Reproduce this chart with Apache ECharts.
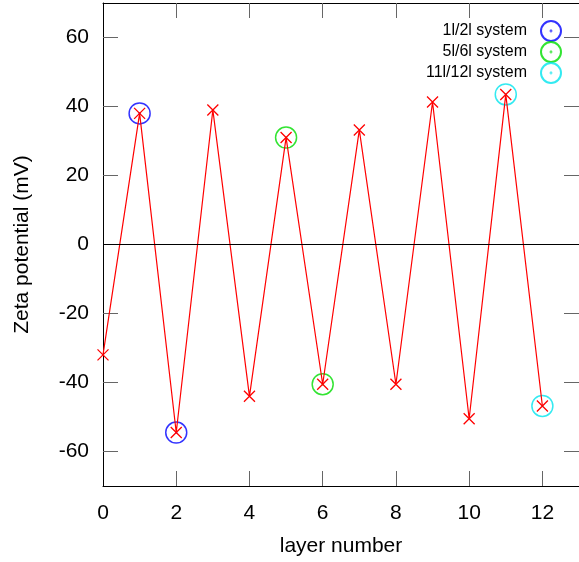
<!DOCTYPE html>
<html><head><meta charset="utf-8">
<script src="https://cdn.jsdelivr.net/npm/echarts@6/dist/echarts.min.js"></script>
<style>html,body{margin:0;padding:0;background:#fff}#c{width:579px;height:562px}</style>
</head><body><div id="c"></div>
<script>
const layers = [0,1,2,3,4,5,6,7,8,9,10,11,12];
const zeta = [-32,38,-54.5,39,-44,31,-40.5,33.2,-40.5,41.3,-50.5,43.5,-46.8];
const sys12 = [[1,38],[2,-54.5]];
const sys56 = [[5,31],[6,-40.5]];
const sys1112 = [[11,43.5],[12,-46.8]];
const xTicks = [0,2,4,6,8,10,12];
const yTicks = [-60,-40,-20,0,20,40,60];
const legendNames = ['1l/2l system','5l/6l system','11l/12l system'];

const font = 'Liberation Sans, Arial, sans-serif';
const xTickMarks = xTicks.filter(v => v !== 0);
const tickStyle = {show:true, inside:true, length:15, lineStyle:{color:'#666', width:1}};
const lineStyleAx = {show:true, onZero:false, lineStyle:{color:'#000', width:1}};
const ringPath = 'path://M10,0A10,10,0,1,1,10,20A10,10,0,1,1,10,0ZM10,9.6A0.4,0.4,0,1,1,10,10.4A0.4,0.4,0,1,1,10,9.6Z';
const chart = echarts.init(document.getElementById('c'), null, {renderer:'canvas'});
function ring(name, color, data){
  return {name, type:'scatter', data, symbol:ringPath, symbolSize:21, z:3,
    itemStyle:{color:'rgba(0,0,0,0)', borderColor:color, borderWidth:1.5}};
}
chart.setOption({
  animation:false,
  grid:{left:103, top:3, width:483, height:484},
  legend:{orient:'vertical', right:12, top:15, align:'right', itemWidth:20, itemHeight:20, itemGap:-1,
    icon:ringPath,
    textStyle:{fontFamily:font, fontSize:16, color:'#000', lineHeight:20, padding:[0,9,0,0]},
    data:legendNames, selectedMode:false},
  xAxis:[{type:'value', min:0, max:13, position:'bottom',
    axisLine:lineStyleAx,
    axisTick:Object.assign({customValues:xTickMarks}, tickStyle),
    axisLabel:{customValues:xTicks, fontFamily:font, fontSize:21, color:'#000', margin:17},
    splitLine:{show:false},
    name:'layer number', nameLocation:'middle', nameGap:50,
    nameTextStyle:{fontFamily:font, fontSize:21, color:'#000'}},
   {type:'value', min:0, max:13, position:'top',
    axisLine:lineStyleAx,
    axisTick:Object.assign({customValues:xTickMarks}, tickStyle),
    axisLabel:{show:false}, splitLine:{show:false}}],
  yAxis:[{type:'value', min:-70, max:70, position:'left',
    axisLine:lineStyleAx,
    axisTick:Object.assign({customValues:yTicks}, tickStyle),
    axisLabel:{customValues:yTicks, fontFamily:font, fontSize:21, color:'#000', margin:14},
    splitLine:{show:false},
    name:'Zeta potential (mV)', nameLocation:'middle', nameGap:70, nameRotate:90,
    nameTextStyle:{fontFamily:font, fontSize:21, color:'#000'}},
   {type:'value', min:-70, max:70, position:'right',
    axisLine:lineStyleAx,
    axisTick:Object.assign({customValues:yTicks}, tickStyle),
    axisLabel:{show:false}, splitLine:{show:false}}],
  series:[
    {type:'line', data:layers.map((x,i)=>[x,zeta[i]]), z:4,
     symbol:'path://M0,0L10,10M10,0L0,10', symbolSize:11,
     lineStyle:{color:'#ff0000', width:1.2},
     itemStyle:{color:'#ff0000', borderColor:'#ff0000', borderWidth:1.3},
     markLine:{silent:true, symbol:'none', label:{show:false},
       lineStyle:{color:'#000', width:1, type:'solid'}, data:[{yAxis:0}]}},
    ring(legendNames[0], '#0000ff', sys12),
    ring(legendNames[1], '#00dd00', sys56),
    ring(legendNames[2], '#00e5ee', sys1112)
  ]
});
</script></body></html>
